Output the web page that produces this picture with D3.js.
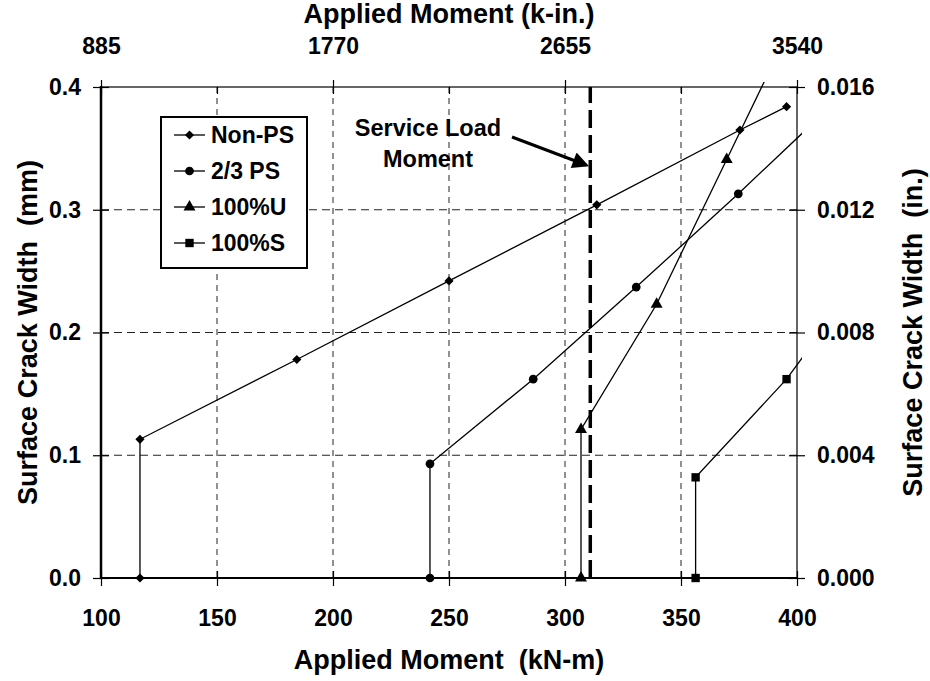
<!DOCTYPE html>
<html lang="en">
<head>
<meta charset="utf-8">
<title>Surface Crack Width vs Applied Moment</title>
<script src="https://d3js.org/d3.v7.min.js"></script>
<style>
  body { margin: 0; background: #fff; }
  text { font-family: "Liberation Sans", Arial, sans-serif; font-weight: bold; fill: #000; white-space: pre; }
</style>
</head>
<body>
<script>
// data (kN-m, mm)
var nonPsX = [116.8, 116.8, 184.4, 250, 313.7, 375.4, 395.5]
var nonPsY = [0, 0.113, 0.178, 0.242, 0.304, 0.365, 0.384]
var ps23X = [241.8, 241.8, 286.3, 330.7, 374.7, 425]
var ps23Y = [0, 0.093, 0.162, 0.237, 0.313, 0.403]
var u100X = [306.9, 306.9, 339.5, 369.7, 395]
var u100Y = [0, 0.121, 0.223, 0.341, 0.44]
var s100X = [356.3, 356.3, 395.5, 425]
var s100Y = [0, 0.082, 0.162, 0.238]
var serviceMoment = 310.9

var seriesNames = ["Non-PS", "2/3 PS", "100%U", "100%S"]
var seriesMarks = ["diamond", "circle", "triangle", "square"]
var bottomTicks = [100, 150, 200, 250, 300, 350, 400]
var topTicks = [100, 200, 300, 400]
var topLabels = ["885", "1770", "2655", "3540"]
var leftTicks = [0, 0.1, 0.2, 0.3, 0.4]
var rightTicks = [0, 0.004, 0.008, 0.012, 0.016]

var width = 930, height = 681
var plotL = 101, plotR = 797, plotT = 87, plotB = 578

var svg = d3.select("body").append("svg")
  .attr("width", width)
  .attr("height", height)

var x = d3.scaleLinear().domain([100, 400]).range([plotL, plotR])
var y = d3.scaleLinear().domain([0, 0.4]).range([plotB, plotT])
var yIn = d3.scaleLinear().domain([0, 0.016]).range([plotB, plotT])

// dashed grid
svg.append("g").selectAll("line")
  .data(bottomTicks.slice(1, -1))
  .enter().append("line")
    .attr("x1", d => x(d)).attr("x2", d => x(d))
    .attr("y1", plotT).attr("y2", plotB)
    .attr("stroke", "#222").attr("stroke-width", 1)
    .attr("stroke-dasharray", "6,5")
svg.append("g").selectAll("line")
  .data(leftTicks.slice(1, -1))
  .enter().append("line")
    .attr("x1", plotL).attr("x2", plotR)
    .attr("y1", d => y(d)).attr("y2", d => y(d))
    .attr("stroke", "#222").attr("stroke-width", 1)
    .attr("stroke-dasharray", "8,5")

// plot frame
svg.append("rect")
  .attr("x", plotL).attr("y", plotT)
  .attr("width", plotR - plotL).attr("height", plotB - plotT)
  .attr("fill", "none").attr("stroke", "#000").attr("stroke-width", 1.2)

// axes
var fs = 23, titleFs = 27
var xAxis = d3.axisBottom(x).tickValues(bottomTicks).tickSizeInner(8).tickSizeOuter(0).tickPadding(24)
var gx = svg.append("g").attr("transform", "translate(0," + plotB + ")").call(xAxis)
gx.selectAll(".tick line").attr("y1", -7)

var xTop = d3.axisTop(x).tickValues(bottomTicks).tickSizeInner(7).tickSizeOuter(0)
  .tickFormat(d => { var i = topTicks.indexOf(d); return i < 0 ? "" : topLabels[i] }).tickPadding(26)
var gt = svg.append("g").attr("transform", "translate(0," + plotT + ")").call(xTop)
gt.selectAll(".tick line")
  .attr("y1", 7)
  .attr("y2", d => topTicks.indexOf(d) < 0 ? 0 : -7)

var yAxis = d3.axisLeft(y).tickValues(leftTicks).tickFormat(d3.format(".1f")).tickSizeInner(8).tickSizeOuter(0).tickPadding(12)
var gy = svg.append("g").attr("transform", "translate(" + plotL + ",0)").call(yAxis)
gy.selectAll(".tick line").attr("x1", 8)

var yRight = d3.axisRight(yIn).tickValues(rightTicks).tickFormat(d3.format(".3f")).tickSizeInner(8).tickSizeOuter(0).tickPadding(12)
var gr = svg.append("g").attr("transform", "translate(" + plotR + ",0)").call(yRight)
gr.selectAll(".tick line").attr("x1", -8)

svg.selectAll(".domain").remove()
svg.selectAll(".tick line").attr("stroke", "#000").attr("stroke-width", 1.2)
svg.selectAll(".tick text").attr("font-size", fs).attr("fill", "#000")
  .style("font-family", "Liberation Sans, Arial, sans-serif").style("font-weight", "bold")

// thicker left and bottom axis lines
svg.append("line").attr("x1", plotL).attr("x2", plotL).attr("y1", plotT - 1).attr("y2", plotB + 1)
  .attr("stroke", "#000").attr("stroke-width", 2.5)
svg.append("line").attr("x1", plotL).attr("x2", plotR).attr("y1", plotB).attr("y2", plotB)
  .attr("stroke", "#000").attr("stroke-width", 1.8)

// axis titles
svg.append("text").attr("x", (plotL + plotR) / 2).attr("y", 669)
  .attr("text-anchor", "middle").attr("font-size", titleFs).text("Applied Moment  (kN-m)")
svg.append("text").attr("x", (plotL + plotR) / 2).attr("y", 23)
  .attr("text-anchor", "middle").attr("font-size", titleFs).text("Applied Moment (k-in.)")
svg.append("text").attr("transform", "translate(37," + (plotT + plotB) / 2 + ") rotate(-90)")
  .attr("text-anchor", "middle").attr("font-size", titleFs).text("Surface Crack Width  (mm)")
svg.append("text").attr("transform", "translate(922," + (plotT + plotB) / 2 + ") rotate(-90)")
  .attr("text-anchor", "middle").attr("font-size", titleFs).text("Surface Crack Width  (in.)")

// service load line
svg.append("line")
  .attr("x1", x(serviceMoment)).attr("x2", x(serviceMoment))
  .attr("y1", plotB).attr("y2", plotT)
  .attr("stroke", "#000").attr("stroke-width", 3.5)
  .attr("stroke-dasharray", "18,7")

// series
svg.append("clipPath").attr("id", "clip")
  .append("rect").attr("x", plotL - 5).attr("y", plotT - 5)
  .attr("width", plotR - plotL + 10).attr("height", plotB - plotT + 10)

var series = [
  { xs: nonPsX, ys: nonPsY },
  { xs: ps23X, ys: ps23Y },
  { xs: u100X, ys: u100Y },
  { xs: s100X, ys: s100Y }
]
// diamond = square turned 45 degrees
var symbolType = { diamond: d3.symbolSquare, circle: d3.symbolCircle, triangle: d3.symbolTriangle, square: d3.symbolSquare }
var symbolSize = { diamond: 42, circle: 60, triangle: 62, square: 70 }
var symbolRot = { diamond: 45, circle: 0, triangle: 0, square: 0 }

var line = d3.line().x(d => x(d[0])).y(d => y(d[1]))
var plot = svg.append("g").attr("clip-path", "url(#clip)")
series.forEach(function(s, i) {
  var pts = s.xs.map((v, j) => [v, s.ys[j]])
  plot.append("path").datum(pts)
    .attr("d", line).attr("fill", "none").attr("stroke", "#000").attr("stroke-width", 1.3)
  var m = seriesMarks[i]
  plot.selectAll(null).data(pts.filter(p => p[0] <= 400 && p[1] <= 0.4))
    .enter().append("path")
      .attr("transform", p => "translate(" + x(p[0]) + "," + y(p[1]) + ") rotate(" + symbolRot[m] + ")")
      .attr("d", d3.symbol().type(symbolType[m]).size(symbolSize[m]))
      .attr("fill", "#000")
})

// annotation
svg.append("text").attr("x", 428).attr("y", 136).attr("text-anchor", "middle").attr("font-size", 23.5).text("Service Load")
svg.append("text").attr("x", 428).attr("y", 167).attr("text-anchor", "middle").attr("font-size", 23.5).text("Moment")
svg.append("defs").append("marker").attr("id", "arrow")
  .attr("viewBox", "0 0 10 10").attr("refX", 8).attr("refY", 5)
  .attr("markerWidth", 6.5).attr("markerHeight", 5.5).attr("markerUnits", "strokeWidth")
  .attr("orient", "auto")
  .append("path").attr("d", "M0,0L10,5L0,10Z").attr("fill", "#000")
svg.append("line").attr("x1", 512).attr("y1", 137).attr("x2", 586).attr("y2", 165)
  .attr("stroke", "#000").attr("stroke-width", 3).attr("marker-end", "url(#arrow)")

// legend
var lg = svg.append("g")
lg.append("rect").attr("x", 161).attr("y", 117).attr("width", 146).attr("height", 151)
  .attr("fill", "#fff").attr("stroke", "#000").attr("stroke-width", 2)
seriesNames.forEach(function(name, i) {
  var ly = 135 + i * 36
  lg.append("line").attr("x1", 174).attr("x2", 205).attr("y1", ly).attr("y2", ly)
    .attr("stroke", "#000").attr("stroke-width", 1.3)
  var m = seriesMarks[i]
  lg.append("path").attr("transform", "translate(189.5," + ly + ") rotate(" + symbolRot[m] + ")")
    .attr("d", d3.symbol().type(symbolType[m]).size(symbolSize[m])).attr("fill", "#000")
  lg.append("text").attr("x", 211).attr("y", ly + 8).attr("font-size", fs).text(name)
})
</script>
</body>
</html>
